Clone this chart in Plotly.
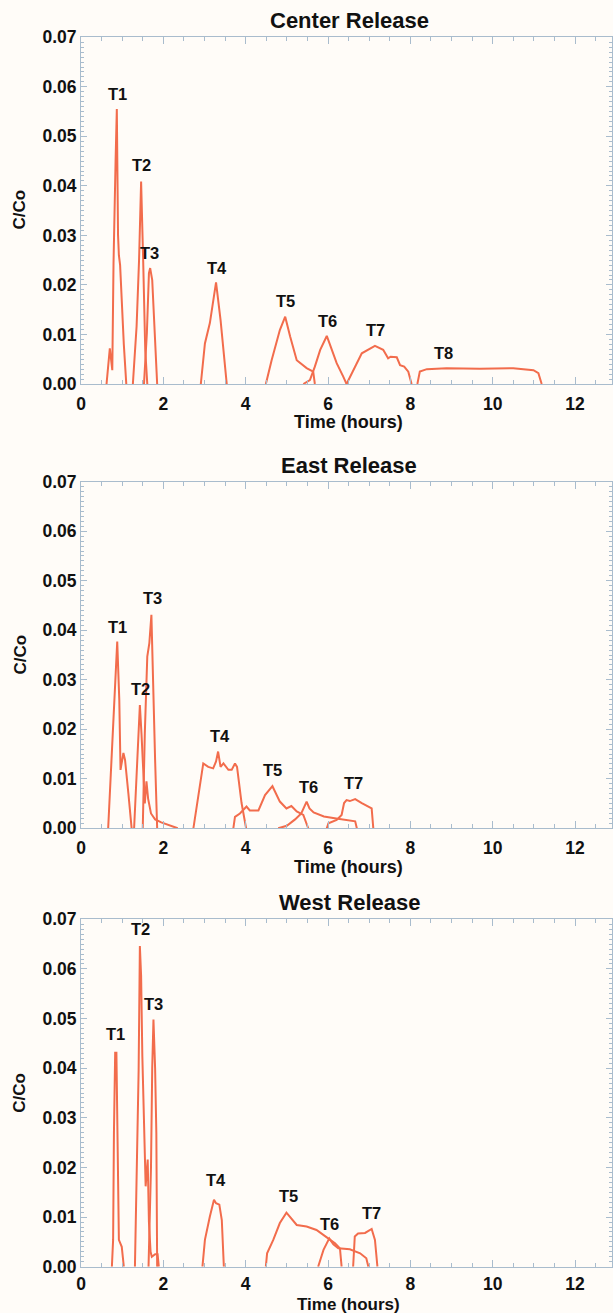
import plotly.graph_objects as go

# ---------------- data (hours, C/Co) ----------------
# Center Release
C_T1_X = [0.62, 0.70, 0.76, 0.79, 0.84, 0.87, 0.90, 0.92, 0.95, 0.99, 1.04, 1.10]
C_T1_Y = [0.0, 0.0072, 0.0028, 0.0244, 0.045, 0.0555, 0.030, 0.026, 0.024, 0.0163, 0.008, 0.0]
C_T2_X = [1.26, 1.35, 1.41, 1.46, 1.51, 1.56, 1.61]
C_T2_Y = [0.0, 0.0116, 0.025, 0.0409, 0.025, 0.0069, 0.0]
C_T3_X = [1.53, 1.60, 1.65, 1.68, 1.73, 1.79, 1.85]
C_T3_Y = [0.0, 0.0103, 0.0224, 0.0234, 0.021, 0.0116, 0.0]
C_T4_X = [2.91, 3.01, 3.13, 3.28, 3.39, 3.54]
C_T4_Y = [0.0, 0.0082, 0.0123, 0.0205, 0.0129, 0.0]
C_T5_X = [4.49, 4.63, 4.83, 4.96, 5.08, 5.24, 5.48, 5.64, 5.68]
C_T5_Y = [0.0, 0.0048, 0.0109, 0.0136, 0.0096, 0.0048, 0.0032, 0.0025, 0.0]
C_T6_X = [5.40, 5.56, 5.68, 5.81, 5.97, 6.09, 6.21, 6.37, 6.45]
C_T6_Y = [0.0, 0.0008, 0.0035, 0.0069, 0.0097, 0.0069, 0.0042, 0.0015, 0.0]
C_T7_X = [6.45, 6.61, 6.82, 7.14, 7.34, 7.46, 7.52, 7.67, 7.75, 7.85, 7.95, 8.03]
C_T7_Y = [0.0, 0.0028, 0.0062, 0.0077, 0.0069, 0.0052, 0.0055, 0.0054, 0.0038, 0.0035, 0.0025, 0.0]
C_T8_X = [8.17, 8.23, 8.40, 8.88, 9.69, 10.50, 10.99, 11.11, 11.19]
C_T8_Y = [0.0, 0.0025, 0.0030, 0.0032, 0.0031, 0.0032, 0.0028, 0.0022, 0.0]

# East Release
E_T1_X = [0.66, 0.78, 0.88, 0.93, 0.96, 1.03, 1.07, 1.15, 1.23]
E_T1_Y = [0.0, 0.0192, 0.0377, 0.0259, 0.0118, 0.0152, 0.0138, 0.0071, 0.0]
E_T2_X = [1.29, 1.37, 1.43, 1.47, 1.51, 1.55, 1.59, 1.63, 1.70, 1.80, 1.95, 2.10, 2.25, 2.35]
E_T2_Y = [0.0, 0.0138, 0.0249, 0.019, 0.012, 0.005, 0.0095, 0.006, 0.003, 0.0018, 0.0012, 0.0008, 0.0004, 0.0]
E_T3_X = [1.50, 1.55, 1.61, 1.66, 1.71, 1.75, 1.80, 1.85]
E_T3_Y = [0.0, 0.0192, 0.0347, 0.0374, 0.0431, 0.0273, 0.0138, 0.0]
E_T4_X = [2.73, 2.85, 2.97, 3.09, 3.21, 3.28, 3.33, 3.39, 3.46, 3.58, 3.66, 3.74, 3.79, 3.90, 4.01]
E_T4_Y = [0.0, 0.0064, 0.0131, 0.0124, 0.0121, 0.0135, 0.0155, 0.0124, 0.0131, 0.0118, 0.0118, 0.0131, 0.0124, 0.0051, 0.0]
E_T5_X = [3.70, 3.74, 3.86, 4.02, 4.10, 4.31, 4.47, 4.65, 4.83, 4.99, 5.11, 5.24, 5.40, 5.52]
E_T5_Y = [0.0, 0.0023, 0.0030, 0.0044, 0.0036, 0.0036, 0.0067, 0.0085, 0.0054, 0.0040, 0.0045, 0.0034, 0.0027, 0.0]
E_T6_X = [4.79, 5.00, 5.20, 5.35, 5.48, 5.55, 5.65, 5.90, 6.20, 6.50, 6.66, 6.70]
E_T6_Y = [0.0, 0.0005, 0.0018, 0.0030, 0.0054, 0.0040, 0.0032, 0.0024, 0.0020, 0.0017, 0.0014, 0.0]
E_T7_X = [5.97, 6.01, 6.21, 6.33, 6.39, 6.45, 6.53, 6.66, 6.82, 7.06, 7.10]
E_T7_Y = [0.0, 0.0010, 0.0017, 0.0027, 0.0051, 0.0057, 0.0055, 0.0059, 0.0051, 0.0040, 0.0]

# West Release
W_T1_X = [0.75, 0.78, 0.80, 0.83, 0.86, 0.88, 0.92, 0.99, 1.04]
W_T1_Y = [0.0, 0.0054, 0.027, 0.0431, 0.0431, 0.027, 0.0054, 0.0040, 0.0]
W_T2_X = [1.31, 1.37, 1.40, 1.43, 1.46, 1.49, 1.53, 1.57, 1.62, 1.65, 1.69, 1.72, 1.80, 1.86, 1.89]
W_T2_Y = [0.0, 0.027, 0.0397, 0.0646, 0.0586, 0.0424, 0.027, 0.0162, 0.0216, 0.009, 0.003, 0.002, 0.0025, 0.0025, 0.0]
W_T3_X = [1.64, 1.70, 1.73, 1.76, 1.80, 1.83, 1.85]
W_T3_Y = [0.0, 0.020, 0.040, 0.0498, 0.040, 0.027, 0.0]
W_T4_X = [2.95, 3.01, 3.13, 3.23, 3.28, 3.36, 3.42, 3.47]
W_T4_Y = [0.0, 0.0054, 0.0101, 0.0135, 0.0128, 0.0125, 0.0094, 0.0]
W_T5_X = [4.49, 4.52, 4.67, 4.83, 4.99, 5.11, 5.24, 5.48, 5.72, 5.97, 6.17, 6.29, 6.33]
W_T5_Y = [0.0, 0.0027, 0.0054, 0.0088, 0.0109, 0.0098, 0.0084, 0.0081, 0.0074, 0.0059, 0.0047, 0.0037, 0.0]
W_T6_X = [5.76, 5.89, 6.03, 6.13, 6.25, 6.53, 6.78, 6.93, 6.98]
W_T6_Y = [0.0, 0.0034, 0.0057, 0.0045, 0.0037, 0.0035, 0.0027, 0.0017, 0.0]
W_T7_X = [6.61, 6.65, 6.73, 6.90, 7.06, 7.14, 7.20]
W_T7_Y = [0.0, 0.0061, 0.0067, 0.0068, 0.0076, 0.0054, 0.0]

PANEL_TITLES = ["Center Release", "East Release", "West Release"]
TRACER_NAMES = ["T1", "T2", "T3", "T4", "T5", "T6", "T7", "T8"]
# label anchor positions (hours, C/Co)
C_LAB_X = [0.875, 1.48, 1.67, 3.30, 4.96, 5.99, 7.16, 8.81]
C_LAB_Y = [0.0586, 0.0442, 0.0264, 0.0235, 0.0168, 0.0128, 0.0109, 0.0062]
E_LAB_X = [0.88, 1.45, 1.74, 3.37, 4.65, 5.53, 6.63]
E_LAB_Y = [0.0407, 0.0281, 0.0465, 0.0186, 0.0118, 0.0084, 0.0091]
W_LAB_X = [0.83, 1.45, 1.76, 3.27, 5.03, 6.03, 7.05]
W_LAB_Y = [0.0468, 0.068, 0.0529, 0.0174, 0.0143, 0.0086, 0.0108]

X_TICKS = [0, 2, 4, 6, 8, 10, 12]
Y_TICKS = [0.00, 0.01, 0.02, 0.03, 0.04, 0.05, 0.06, 0.07]

panels = [
    [(C_T1_X, C_T1_Y), (C_T2_X, C_T2_Y), (C_T3_X, C_T3_Y), (C_T4_X, C_T4_Y),
     (C_T5_X, C_T5_Y), (C_T6_X, C_T6_Y), (C_T7_X, C_T7_Y), (C_T8_X, C_T8_Y)],
    [(E_T1_X, E_T1_Y), (E_T2_X, E_T2_Y), (E_T3_X, E_T3_Y), (E_T4_X, E_T4_Y),
     (E_T5_X, E_T5_Y), (E_T6_X, E_T6_Y), (E_T7_X, E_T7_Y)],
    [(W_T1_X, W_T1_Y), (W_T2_X, W_T2_Y), (W_T3_X, W_T3_Y), (W_T4_X, W_T4_Y),
     (W_T5_X, W_T5_Y), (W_T6_X, W_T6_Y), (W_T7_X, W_T7_Y)],
]
labels = [(C_LAB_X, C_LAB_Y), (E_LAB_X, E_LAB_Y), (W_LAB_X, W_LAB_Y)]

# ---------------- style ----------------
LINE_COLOR = "#f26c4c"
AXIS_COLOR = "#a9bccd"
BG = "#fffcf8"
FONT = "Liberation Sans, Arial, Helvetica, sans-serif"

W, H = 613, 1313
ML, MR, MT, MB = 81, 1, 37, 46
PH = H - MT - MB
PW = W - ML - MR
PX_PER_HR = 41.17
XMAX = PW / PX_PER_HR

# panel frames in pixel rows (top, bottom)
frames = [(37.3, 384.0), (481.7, 828.3), (919.3, 1266.7)]
title_y = [20.7, 465.0, 902.7]
xtitle_y = [422.5, 867.0, 1304.5]
xtitle_size = [18, 18, 17]
xtick_standoff = [4, 4, 1]
ytitle_y = [210.0, 655.0, 1093.3]


def py2paper(py):
    return (H - MB - py) / PH


fig = go.Figure()
layout = dict(
    width=W, height=H,
    margin=dict(l=ML, r=MR, t=MT, b=MB),
    paper_bgcolor=BG, plot_bgcolor=BG,
    showlegend=False,
    font=dict(family=FONT, color="#111111"),
)
annotations = []

for i, curves in enumerate(panels):
    k = "" if i == 0 else str(i + 1)
    xa = "x" + k
    ya = "y" + k
    for (xs, ys) in curves:
        fig.add_trace(go.Scatter(x=xs, y=ys, mode="lines", xaxis=xa, yaxis=ya,
                                 line=dict(color=LINE_COLOR, width=2),
                                 hoverinfo="skip"))
    top, bot = frames[i]
    dom = [max(0.0, py2paper(bot)), min(1.0, py2paper(top))]
    layout["xaxis" + k] = dict(
        domain=[0, 1], anchor=ya, range=[0, XMAX],
        tickvals=X_TICKS, ticktext=[str(v) for v in X_TICKS],
        ticks="inside", ticklen=7, tickwidth=1, tickcolor=AXIS_COLOR,
        minor=dict(dtick=0.5, tick0=0, ticks="inside", ticklen=4, tickcolor=AXIS_COLOR),
        showline=True, linecolor=AXIS_COLOR, linewidth=1, mirror="allticks",
        showgrid=False, zeroline=False, ticklabelstandoff=xtick_standoff[i],
        tickfont=dict(family=FONT, size=17.5, color="#111111", weight="bold"),
    )
    layout["yaxis" + k] = dict(
        domain=dom, anchor=xa, range=[0, 0.07],
        tickvals=Y_TICKS, ticktext=["%.2f" % v for v in Y_TICKS],
        ticks="inside", ticklen=6, tickwidth=1, tickcolor=AXIS_COLOR,
        minor=dict(dtick=0.001, tick0=0, ticks="inside", ticklen=3, tickcolor=AXIS_COLOR),
        showline=True, linecolor=AXIS_COLOR, linewidth=1, mirror="allticks",
        showgrid=False, zeroline=False,
        tickfont=dict(family=FONT, size=17.5, color="#111111", weight="bold"),
    )
    # panel title
    annotations.append(dict(text=PANEL_TITLES[i], xref="paper", yref="paper",
                            x=(349 - ML) / PW, y=py2paper(title_y[i]),
                            xanchor="center", yanchor="middle", showarrow=False,
                            font=dict(family=FONT, size=22, color="#111111", weight="bold")))
    # x title
    annotations.append(dict(text="Time (hours)", xref="paper", yref="paper",
                            x=(348 - ML) / PW, y=py2paper(xtitle_y[i]),
                            xanchor="center", yanchor="middle", showarrow=False,
                            font=dict(family=FONT, size=xtitle_size[i], color="#111111",
                                      weight="bold")))
    # y title
    annotations.append(dict(text="C/Co", xref="paper", yref="paper",
                            x=(19.5 - ML) / PW, y=py2paper(ytitle_y[i]),
                            xanchor="center", yanchor="middle", showarrow=False,
                            textangle=-90,
                            font=dict(family=FONT, size=17, color="#111111", weight="bold")))
    # tracer labels
    lx, ly = labels[i]
    for j in range(len(lx)):
        annotations.append(dict(text=TRACER_NAMES[j], xref=xa, yref=ya,
                                x=lx[j], y=ly[j], xanchor="center", yanchor="middle",
                                showarrow=False,
                                font=dict(family=FONT, size=16.5, color="#111111", weight="bold")))

layout["annotations"] = annotations
fig.update_layout(**layout)
fig.write_html("out.html")
